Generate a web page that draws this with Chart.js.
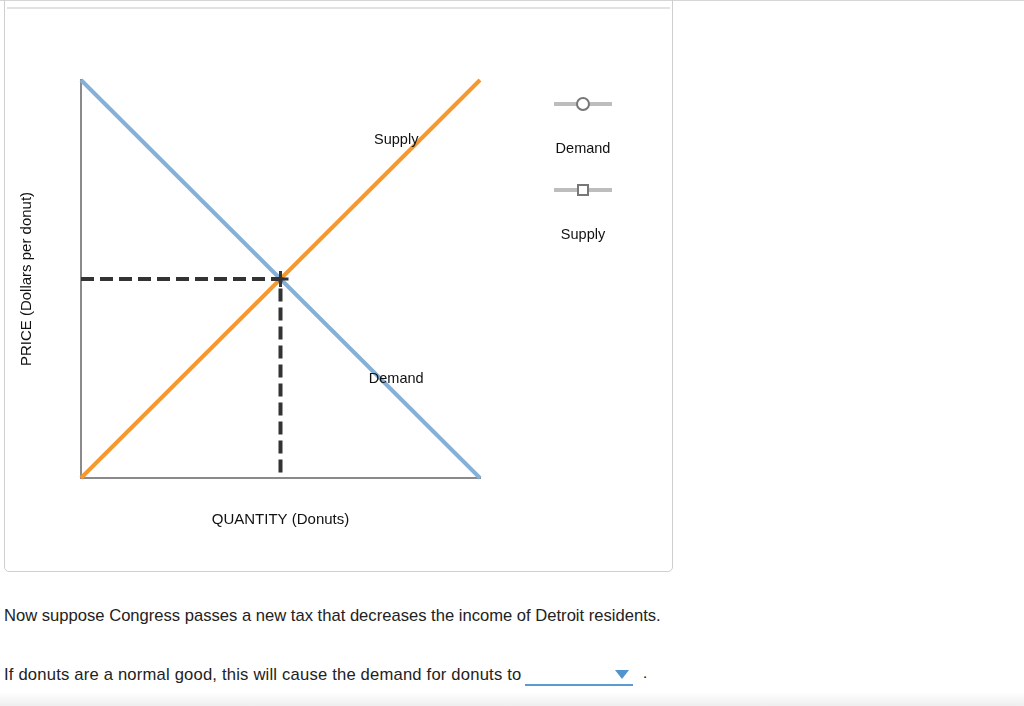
<!DOCTYPE html>
<html>
<head>
<meta charset="utf-8">
<script src="https://cdn.jsdelivr.net/npm/chart.js@4"></script>
<style>
  body { margin: 0; background: #fff; font-family: "Liberation Sans", Arial, sans-serif; width: 1024px; height: 706px; overflow: hidden; position: relative; }
  #topline { position: absolute; left: 0; top: 0; width: 1024px; height: 1px; background: #d6d6d6; }
  #panel { position: absolute; left: 4px; top: -10px; width: 667px; height: 580px; border: 1px solid #cfcfcf; border-radius: 5px; }
  #inner { position: absolute; left: 7px; top: 7px; width: 663px; height: 2px; background: #e2e2e2; }
  #chart { position: absolute; left: 0; top: 0; }
  .q { position: absolute; left: 4px; font-size: 16.6px; color: #222; white-space: nowrap; }
  #dd { position: absolute; left: 525px; top: 664px; width: 108px; height: 20px; border-bottom: 2px solid #5b9bd1; }
  #dd:after { content: ""; position: absolute; right: 4px; top: 6px; border-left: 7px solid transparent; border-right: 7px solid transparent; border-top: 9px solid #4f93cf; }
  #dot { position: absolute; left: 643px; top: 664px; font-size: 15px; }
  #shade { position: absolute; left: 0; top: 692px; width: 1024px; height: 14px; background: linear-gradient(#fff, #eeeeee); }
</style>
</head>
<body>
<div id="topline"></div>
<div id="panel"></div>
<div id="inner"></div>
<canvas id="chart" width="1024" height="580"></canvas>
<div class="q" style="top:606px">Now suppose Congress passes a new tax that decreases the income of Detroit residents.</div>
<div class="q" style="top:665px;letter-spacing:0.2px">If donuts are a normal good, this will cause the demand for donuts to</div>
<div id="dd"></div>
<div id="dot">.</div>
<div id="shade"></div>
<script>
const demandX = [0, 100];
const demandY = [100, 0];
const supplyX = [0, 100];
const supplyY = [0, 100];
const eqX = [0, 50, 50];
const eqY = [50, 50, 0];
const curveLabels = [
  { text: 'Supply', x: 79, y: 85 },
  { text: 'Demand', x: 79, y: 25 }
];
const legendNames = ['Demand', 'Supply'];

function pts(xs, ys) {
  return xs.map((x, i) => ({ x: x, y: ys[i] }));
}

const labelPlugin = {
  id: 'labels',
  afterDatasetsDraw(chart) {
    const ctx = chart.ctx;
    const sx = chart.scales.x, sy = chart.scales.y;
    ctx.save();
    ctx.font = '14.5px "Liberation Sans", Arial, sans-serif';
    ctx.fillStyle = '#111';
    ctx.textAlign = 'center';
    ctx.textBaseline = 'middle';
    curveLabels.forEach(l => {
      ctx.fillText(l.text, sx.getPixelForValue(l.x), sy.getPixelForValue(l.y));
    });

    // legend on the right
    const cx = chart.chartArea.right + 103;
    const top = chart.chartArea.top;
    legendNames.forEach((name, i) => {
      const y = top + 24 + i * 86;
      ctx.strokeStyle = '#bdbdbd';
      ctx.lineWidth = 4;
      ctx.beginPath();
      ctx.moveTo(cx - 29, y);
      ctx.lineTo(cx + 29, y);
      ctx.stroke();
      ctx.fillStyle = '#fff';
      ctx.strokeStyle = '#777';
      ctx.lineWidth = 2;
      ctx.beginPath();
      if (i === 0) ctx.arc(cx, y, 6, 0, Math.PI * 2);
      else ctx.rect(cx - 5, y - 5, 10, 10);
      ctx.fill();
      ctx.stroke();
      ctx.fillStyle = '#111';
      ctx.fillText(name, cx, y + 45);
    });
    ctx.restore();
  }
};

new Chart(document.getElementById('chart'), {
  type: 'scatter',
  data: {
    datasets: [
      {
        label: 'Equilibrium',
        data: pts(eqX, eqY),
        showLine: true,
        borderColor: '#333',
        borderWidth: 4,
        borderDash: [13, 6],
        pointRadius: [0, 8, 0],
        pointStyle: 'cross',
        pointBorderWidth: 3,
        pointBorderColor: '#333',
        clip: false,
        order: 1
      },
      {
        label: 'Demand',
        data: pts(demandX, demandY),
        showLine: true,
        borderColor: '#85b0d8',
        borderWidth: 4,
        pointRadius: 0,
        clip: false,
        order: 2
      },
      {
        label: 'Supply',
        data: pts(supplyX, supplyY),
        showLine: true,
        borderColor: '#f7982e',
        borderWidth: 4,
        pointRadius: 0,
        clip: false,
        order: 3
      }
    ]
  },
  options: {
    responsive: false,
    animation: false,
    events: [],
    layout: { padding: { left: 0, top: 80, right: 544, bottom: 42 } },
    plugins: { legend: { display: false }, tooltip: { enabled: false } },
    scales: {
      x: {
        min: 0, max: 100,
        grid: { display: false },
        border: { color: '#8a8a8a', width: 2 },
        ticks: { display: false },
        title: { display: true, text: 'QUANTITY (Donuts)', color: '#111', font: { size: 15, family: '"Liberation Sans", Arial, sans-serif' }, padding: { top: 0, bottom: 9 } },
        afterFit(s) { s.height = 60; }
      },
      y: {
        min: 0, max: 100,
        grid: { display: false },
        border: { color: '#8a8a8a', width: 2 },
        ticks: { display: false },
        title: { display: true, text: 'PRICE (Dollars per donut)', color: '#111', font: { size: 15, family: '"Liberation Sans", Arial, sans-serif' }, padding: { top: 18, bottom: 0 } },
        afterFit(s) { s.width = 81; }
      }
    }
  },
  plugins: [labelPlugin]
});
</script>
</body>
</html>
